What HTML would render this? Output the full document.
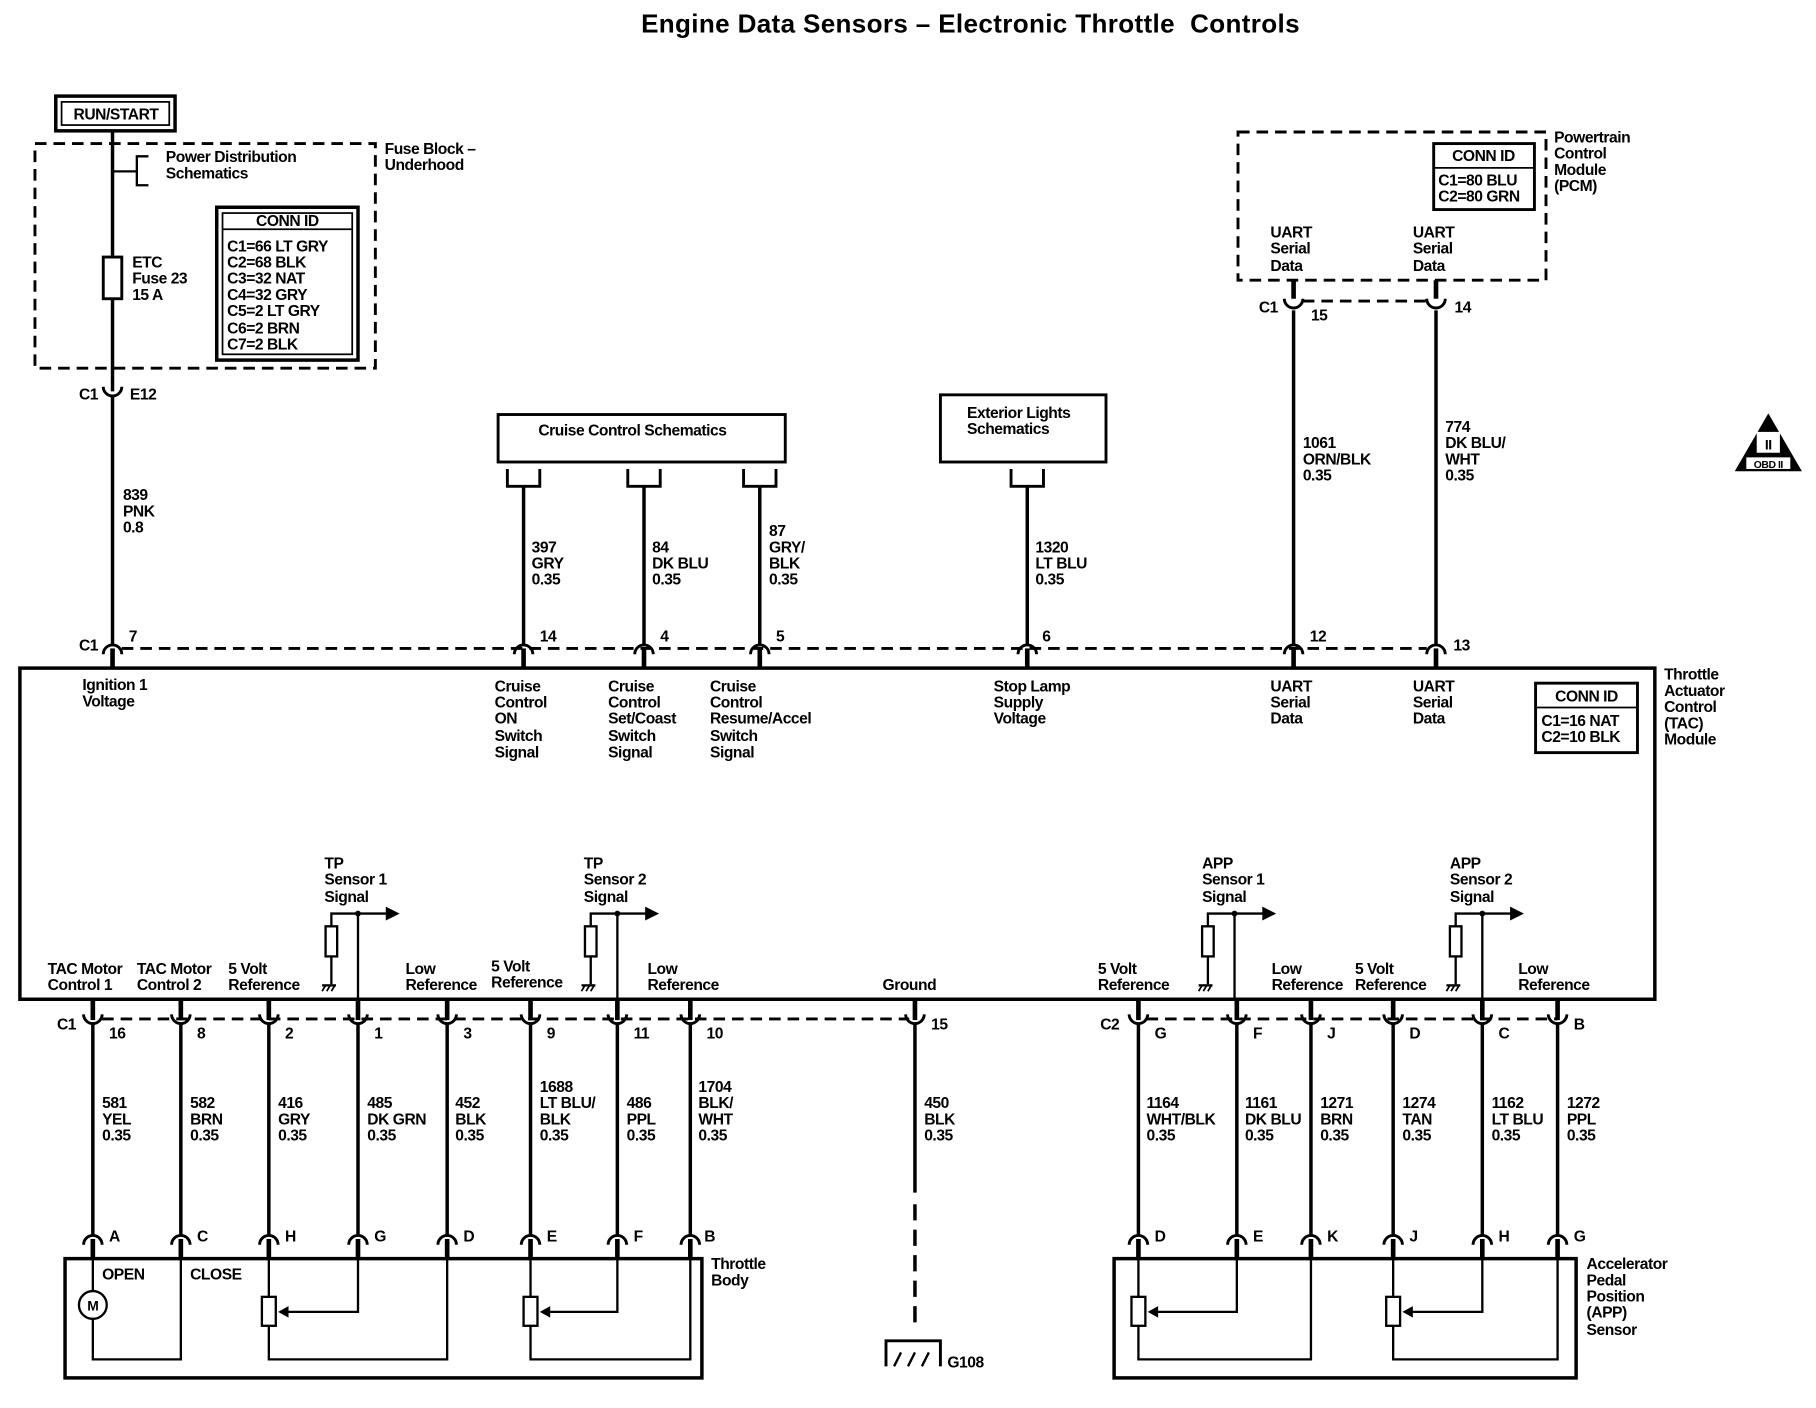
<!DOCTYPE html>
<html><head><meta charset="utf-8"><style>
html,body{margin:0;padding:0;background:#fff;}
svg{display:block}
text{font-family:"Liberation Sans",Arial,sans-serif;font-size:13.5px;font-weight:bold;fill:#000;letter-spacing:-0.4px}
</style></head><body>
<svg width="1816" height="1408" viewBox="0 0 1568 1216" xmlns="http://www.w3.org/2000/svg">
<defs>
<g id="arch"><path d="M-8 8 A8 8 0 0 1 8 8" fill="none" stroke="#000" stroke-width="2.5"/><line x1="0" y1="3" x2="0" y2="20" stroke="#000" stroke-width="4"/></g>
<g id="cup"><path d="M-8 -4 A8 8 0 0 0 8 -4" fill="none" stroke="#000" stroke-width="2.5"/><line x1="0" y1="-17" x2="0" y2="1" stroke="#000" stroke-width="4"/></g>
<g id="gnd"><line x1="-6" y1="0" x2="6" y2="0" stroke="#000" stroke-width="2"/><path d="M-6 5 L-3 0 M-2 5 L1 0 M2 5 L5 0" stroke="#000" stroke-width="1.5"/></g>
</defs>
<text x="838" y="28" text-anchor="middle" xml:space="preserve" style="font-size:22.5px;letter-spacing:0.3px">Engine Data Sensors – Electronic Throttle  Controls</text>

<!-- RUN/START -->
<rect x="48" y="83" width="103" height="30" fill="none" stroke="#000" stroke-width="3"/>
<rect x="53" y="88" width="93" height="20" fill="none" stroke="#000" stroke-width="1.5"/>
<text x="100" y="103" text-anchor="middle">RUN/START</text>

<g fill="none" stroke="#000" stroke-width="2.5" stroke-dasharray="10,6">
<rect x="30" y="124" width="294" height="194"/>
<rect x="1069" y="114" width="266" height="128"/>
<line x1="105" y1="560" x2="1232" y2="560"/>
<line x1="1125" y1="260" x2="1232" y2="260"/>
<line x1="88" y1="880" x2="785" y2="880"/>
<line x1="990" y1="880" x2="1345" y2="880"/>
</g>
<text x="332" y="133">Fuse Block –</text><text x="332" y="147">Underhood</text>
<text x="143" y="140">Power Distribution</text><text x="143" y="154">Schematics</text>
<path d="M97 148 H118 M128 135 H118 V160 H128" fill="none" stroke="#000" stroke-width="2"/>
<line x1="97" y1="113" x2="97" y2="338" stroke="#000" stroke-width="3"/>
<rect x="89" y="222" width="16" height="36" fill="#fff" stroke="#000" stroke-width="2.5"/>
<text x="114" y="231">ETC</text><text x="114" y="245">Fuse 23</text><text x="114" y="259">15 A</text>
<rect x="187" y="179" width="122" height="132" fill="none" stroke="#000" stroke-width="3"/>
<line x1="192" y1="198" x2="304" y2="198" stroke="#000" stroke-width="1.5"/>
<rect x="192" y="184" width="112" height="122" fill="none" stroke="#000" stroke-width="1.5"/>
<text x="248" y="195" text-anchor="middle">CONN ID</text>
<text x="196" y="217">C1=66 LT GRY</text><text x="196" y="231">C2=68 BLK</text><text x="196" y="245">C3=32 NAT</text><text x="196" y="259">C4=32 GRY</text><text x="196" y="273">C5=2 LT GRY</text><text x="196" y="288">C6=2 BRN</text><text x="196" y="302">C7=2 BLK</text>
<path d="M89 334 A8 8 0 0 0 105 334" fill="none" stroke="#000" stroke-width="2.5"/>
<text x="68" y="345">C1</text><text x="112" y="345">E12</text>
<line x1="97" y1="342" x2="97" y2="557" stroke="#000" stroke-width="3"/>
<text x="106" y="432">839</text><text x="106" y="446">PNK</text><text x="106" y="460">0.8</text>

<rect x="430" y="358" width="248" height="41" fill="none" stroke="#000" stroke-width="2.5"/>
<text x="546" y="376" text-anchor="middle">Cruise Control Schematics</text>
<rect x="812" y="341" width="143" height="58" fill="none" stroke="#000" stroke-width="2.5"/>
<text x="835" y="361">Exterior Lights</text><text x="835" y="375">Schematics</text>
<g fill="none" stroke="#000" stroke-width="2.5">
<path d="M438 405 V420 H466 V405"/><path d="M542 405 V420 H570 V405"/><path d="M642 405 V420 H670 V405"/><path d="M873 405 V420 H901 V405"/>
</g>
<g stroke="#000" stroke-width="3">
<line x1="452" y1="420" x2="452" y2="557"/><line x1="556" y1="420" x2="556" y2="557"/><line x1="656" y1="420" x2="656" y2="557"/><line x1="887" y1="420" x2="887" y2="557"/>
<line x1="1117" y1="268" x2="1117" y2="557"/><line x1="1240" y1="268" x2="1240" y2="557"/>
</g>
<text x="459" y="477">397</text><text x="459" y="491">GRY</text><text x="459" y="505">0.35</text>
<text x="563" y="477">84</text><text x="563" y="491">DK BLU</text><text x="563" y="505">0.35</text>
<text x="664" y="463">87</text><text x="664" y="477">GRY/</text><text x="664" y="491">BLK</text><text x="664" y="505">0.35</text>
<text x="894" y="477">1320</text><text x="894" y="491">LT BLU</text><text x="894" y="505">0.35</text>
<text x="1125" y="387">1061</text><text x="1125" y="401">ORN/BLK</text><text x="1125" y="415">0.35</text>
<text x="1248" y="373">774</text><text x="1248" y="387">DK BLU/</text><text x="1248" y="401">WHT</text><text x="1248" y="415">0.35</text>

<text x="1342" y="123">Powertrain</text><text x="1342" y="137">Control</text><text x="1342" y="151">Module</text><text x="1342" y="165">(PCM)</text>
<rect x="1238" y="124" width="87" height="57" fill="none" stroke="#000" stroke-width="2.5"/>
<line x1="1238" y1="145" x2="1325" y2="145" stroke="#000" stroke-width="1.5"/>
<text x="1281" y="139" text-anchor="middle">CONN ID</text>
<text x="1242" y="160">C1=80 BLU</text><text x="1242" y="174">C2=80 GRN</text>
<text x="1097" y="205">UART</text><text x="1097" y="219">Serial</text><text x="1097" y="234">Data</text>
<text x="1220" y="205">UART</text><text x="1220" y="219">Serial</text><text x="1220" y="234">Data</text>
<path d="M1109 258 A8 8 0 0 0 1125 258" fill="none" stroke="#000" stroke-width="2.5"/>
<path d="M1232 258 A8 8 0 0 0 1248 258" fill="none" stroke="#000" stroke-width="2.5"/>
<line x1="1117" y1="242" x2="1117" y2="258" stroke="#000" stroke-width="4"/><line x1="1240" y1="242" x2="1240" y2="258" stroke="#000" stroke-width="4"/>
<text x="1087" y="270">C1</text><text x="1132" y="277">15</text><text x="1256" y="270">14</text>

<path d="M1527 357 L1556 407 L1498 407 Z" fill="#000"/>
<rect x="1517" y="373" width="20" height="18" fill="#fff"/><text x="1527" y="388" text-anchor="middle" style="font-size:12px">II</text>
<rect x="1508" y="395" width="38" height="10" fill="#fff"/><text x="1527" y="404" text-anchor="middle" style="font-size:9px">OBD II</text>

<use href="#arch" x="97" y="557"/><use href="#arch" x="452" y="557"/><use href="#arch" x="556" y="557"/><use href="#arch" x="656" y="557"/><use href="#arch" x="887" y="557"/><use href="#arch" x="1117" y="557"/><use href="#arch" x="1240" y="557"/>
<text x="68" y="562">C1</text><text x="111" y="554">7</text><text x="466" y="554">14</text><text x="570" y="554">4</text><text x="670" y="554">5</text><text x="900" y="554">6</text><text x="1131" y="554">12</text><text x="1255" y="562">13</text>

<rect x="17" y="577" width="1412" height="286" fill="none" stroke="#000" stroke-width="3"/>
<text x="1437" y="587">Throttle</text><text x="1437" y="601">Actuator</text><text x="1437" y="615">Control</text><text x="1437" y="629">(TAC)</text><text x="1437" y="643">Module</text>
<rect x="1326" y="590" width="88" height="60" fill="none" stroke="#000" stroke-width="2.5"/>
<line x1="1326" y1="611" x2="1414" y2="611" stroke="#000" stroke-width="1.5"/>
<text x="1370" y="606" text-anchor="middle">CONN ID</text>
<text x="1331" y="627">C1=16 NAT</text><text x="1331" y="641">C2=10 BLK</text>
<text x="71" y="596">Ignition 1</text><text x="71" y="610">Voltage</text>
<text x="427" y="597">Cruise</text><text x="427" y="611">Control</text><text x="427" y="625">ON</text><text x="427" y="640">Switch</text><text x="427" y="654">Signal</text>
<text x="525" y="597">Cruise</text><text x="525" y="611">Control</text><text x="525" y="625">Set/Coast</text><text x="525" y="640">Switch</text><text x="525" y="654">Signal</text>
<text x="613" y="597">Cruise</text><text x="613" y="611">Control</text><text x="613" y="625">Resume/Accel</text><text x="613" y="640">Switch</text><text x="613" y="654">Signal</text>
<text x="858" y="597">Stop Lamp</text><text x="858" y="611">Supply</text><text x="858" y="625">Voltage</text>
<text x="1097" y="597">UART</text><text x="1097" y="611">Serial</text><text x="1097" y="625">Data</text>
<text x="1220" y="597">UART</text><text x="1220" y="611">Serial</text><text x="1220" y="625">Data</text>

<text x="41" y="841">TAC Motor</text><text x="41" y="855">Control 1</text>
<text x="118" y="841">TAC Motor</text><text x="118" y="855">Control 2</text>
<text x="197" y="841">5 Volt</text><text x="197" y="855">Reference</text>
<text x="350" y="841">Low</text><text x="350" y="855">Reference</text>
<text x="424" y="839">5 Volt</text><text x="424" y="853">Reference</text>
<text x="559" y="841">Low</text><text x="559" y="855">Reference</text>
<text x="762" y="855">Ground</text>
<text x="948" y="841">5 Volt</text><text x="948" y="855">Reference</text>
<text x="1098" y="841">Low</text><text x="1098" y="855">Reference</text>
<text x="1170" y="841">5 Volt</text><text x="1170" y="855">Reference</text>
<text x="1311" y="841">Low</text><text x="1311" y="855">Reference</text>

<g id="s1">
<text x="280" y="750">TP</text><text x="280" y="764">Sensor 1</text><text x="280" y="779">Signal</text>
<path d="M309 863 V789 H335" fill="none" stroke="#000" stroke-width="2"/><path d="M333 783 L345 789 L333 795 Z"/>
<circle cx="309" cy="789" r="2.5"/>
<path d="M286 800 V789 H309 M286 826 V850" fill="none" stroke="#000" stroke-width="2"/>
<rect x="281" y="800" width="10" height="26" fill="#fff" stroke="#000" stroke-width="2"/>
<use href="#gnd" x="284" y="851"/>
</g>
<use href="#s1" x="224" y="0"/>
<use href="#s1" x="757" y="0"/>
<use href="#s1" x="971" y="0"/>
<rect x="500" y="738" width="70" height="45" fill="#fff"/><rect x="1035" y="738" width="70" height="45" fill="#fff"/><rect x="1248" y="738" width="70" height="45" fill="#fff"/>
<text x="504" y="750">TP</text><text x="504" y="764">Sensor 2</text><text x="504" y="779">Signal</text>
<text x="1038" y="750">APP</text><text x="1038" y="764">Sensor 1</text><text x="1038" y="779">Signal</text>
<text x="1252" y="750">APP</text><text x="1252" y="764">Sensor 2</text><text x="1252" y="779">Signal</text>

<g stroke="#000" stroke-width="3">
<line x1="80" y1="884" x2="80" y2="1067"/><line x1="156" y1="884" x2="156" y2="1067"/><line x1="232" y1="884" x2="232" y2="1067"/><line x1="309" y1="884" x2="309" y2="1067"/><line x1="386" y1="884" x2="386" y2="1067"/><line x1="458" y1="884" x2="458" y2="1067"/><line x1="533" y1="884" x2="533" y2="1067"/><line x1="596" y1="884" x2="596" y2="1067"/>
<line x1="790" y1="884" x2="790" y2="1030"/><line x1="790" y1="1040" x2="790" y2="1150" stroke-dasharray="14,8"/>
<line x1="983" y1="884" x2="983" y2="1067"/><line x1="1068" y1="884" x2="1068" y2="1067"/><line x1="1132" y1="884" x2="1132" y2="1067"/><line x1="1203" y1="884" x2="1203" y2="1067"/><line x1="1280" y1="884" x2="1280" y2="1067"/><line x1="1345" y1="884" x2="1345" y2="1067"/>
</g>
<g>
<use href="#cup" x="80" y="880"/><use href="#cup" x="156" y="880"/><use href="#cup" x="232" y="880"/><use href="#cup" x="309" y="880"/><use href="#cup" x="386" y="880"/><use href="#cup" x="458" y="880"/><use href="#cup" x="533" y="880"/><use href="#cup" x="596" y="880"/><use href="#cup" x="790" y="880"/>
<use href="#cup" x="983" y="880"/><use href="#cup" x="1068" y="880"/><use href="#cup" x="1132" y="880"/><use href="#cup" x="1203" y="880"/><use href="#cup" x="1280" y="880"/><use href="#cup" x="1345" y="880"/>
</g>
<text x="49" y="889">C1</text><text x="94" y="897">16</text><text x="170" y="897">8</text><text x="246" y="897">2</text><text x="323" y="897">1</text><text x="400" y="897">3</text><text x="472" y="897">9</text><text x="547" y="897">11</text><text x="610" y="897">10</text><text x="804" y="889">15</text>
<text x="950" y="889">C2</text><text x="997" y="897">G</text><text x="1082" y="897">F</text><text x="1146" y="897">J</text><text x="1217" y="897">D</text><text x="1294" y="897">C</text><text x="1359" y="889">B</text>

<g>
<text x="88" y="957">581</text><text x="88" y="971">YEL</text><text x="88" y="985">0.35</text>
<text x="164" y="957">582</text><text x="164" y="971">BRN</text><text x="164" y="985">0.35</text>
<text x="240" y="957">416</text><text x="240" y="971">GRY</text><text x="240" y="985">0.35</text>
<text x="317" y="957">485</text><text x="317" y="971">DK GRN</text><text x="317" y="985">0.35</text>
<text x="393" y="957">452</text><text x="393" y="971">BLK</text><text x="393" y="985">0.35</text>
<text x="466" y="943">1688</text><text x="466" y="957">LT BLU/</text><text x="466" y="971">BLK</text><text x="466" y="985">0.35</text>
<text x="541" y="957">486</text><text x="541" y="971">PPL</text><text x="541" y="985">0.35</text>
<text x="603" y="943">1704</text><text x="603" y="957">BLK/</text><text x="603" y="971">WHT</text><text x="603" y="985">0.35</text>
<text x="798" y="957">450</text><text x="798" y="971">BLK</text><text x="798" y="985">0.35</text>
<text x="990" y="957">1164</text><text x="990" y="971">WHT/BLK</text><text x="990" y="985">0.35</text>
<text x="1075" y="957">1161</text><text x="1075" y="971">DK BLU</text><text x="1075" y="985">0.35</text>
<text x="1140" y="957">1271</text><text x="1140" y="971">BRN</text><text x="1140" y="985">0.35</text>
<text x="1211" y="957">1274</text><text x="1211" y="971">TAN</text><text x="1211" y="985">0.35</text>
<text x="1288" y="957">1162</text><text x="1288" y="971">LT BLU</text><text x="1288" y="985">0.35</text>
<text x="1353" y="957">1272</text><text x="1353" y="971">PPL</text><text x="1353" y="985">0.35</text>
</g>

<use href="#arch" x="80" y="1067"/><use href="#arch" x="156" y="1067"/><use href="#arch" x="232" y="1067"/><use href="#arch" x="309" y="1067"/><use href="#arch" x="386" y="1067"/><use href="#arch" x="458" y="1067"/><use href="#arch" x="533" y="1067"/><use href="#arch" x="596" y="1067"/>
<use href="#arch" x="983" y="1067"/><use href="#arch" x="1068" y="1067"/><use href="#arch" x="1132" y="1067"/><use href="#arch" x="1203" y="1067"/><use href="#arch" x="1280" y="1067"/><use href="#arch" x="1345" y="1067"/>
<text x="94" y="1072">A</text><text x="170" y="1072">C</text><text x="246" y="1072">H</text><text x="323" y="1072">G</text><text x="400" y="1072">D</text><text x="472" y="1072">E</text><text x="547" y="1072">F</text><text x="608" y="1072">B</text>
<text x="997" y="1072">D</text><text x="1082" y="1072">E</text><text x="1146" y="1072">K</text><text x="1217" y="1072">J</text><text x="1294" y="1072">H</text><text x="1359" y="1072">G</text>

<rect x="56" y="1087" width="550" height="103" fill="none" stroke="#000" stroke-width="3"/>
<text x="614" y="1096">Throttle</text><text x="614" y="1110">Body</text>
<text x="88" y="1105">OPEN</text><text x="164" y="1105">CLOSE</text>
<g fill="none" stroke="#000" stroke-width="2">
<path d="M80 1087 V1115 M80 1139 V1174 H156 V1087"/>
<path d="M232 1087 V1120 M232 1145 V1174 H386 V1087"/>
<path d="M309 1087 V1133 H246"/>
<path d="M458 1087 V1120 M458 1145 V1174 H596 V1087"/>
<path d="M533 1087 V1133 H472"/>
<path d="M983 1087 V1120 M983 1145 V1174 H1132 V1087"/>
<path d="M1068 1087 V1133 H997"/>
<path d="M1203 1087 V1120 M1203 1145 V1174 H1345 V1087"/>
<path d="M1280 1087 V1133 H1217"/>
</g>
<circle cx="80" cy="1127" r="12" fill="#fff" stroke="#000" stroke-width="2"/>
<text x="80" y="1132" text-anchor="middle" style="font-size:12px">M</text>
<g fill="#fff" stroke="#000" stroke-width="2">
<rect x="226" y="1120" width="12" height="25"/><rect x="452" y="1120" width="12" height="25"/><rect x="977" y="1120" width="12" height="25"/><rect x="1197" y="1120" width="12" height="25"/>
</g>
<path d="M240 1133 L249 1128 L249 1138Z M466 1133 L475 1128 L475 1138Z M991 1133 L1000 1128 L1000 1138Z M1211 1133 L1220 1128 L1220 1138Z"/>

<rect x="962" y="1087" width="399" height="103" fill="none" stroke="#000" stroke-width="3"/>
<text x="1370" y="1096">Accelerator</text><text x="1370" y="1110">Pedal</text><text x="1370" y="1124">Position</text><text x="1370" y="1138">(APP)</text><text x="1370" y="1153">Sensor</text>

<path d="M765 1180 V1158 H812 V1180" fill="none" stroke="#000" stroke-width="2.5"/>
<path d="M772 1180 L778 1168 M784 1180 L790 1168 M796 1180 L802 1168" stroke="#000" stroke-width="2"/>
<text x="818" y="1181">G108</text>
</svg>
</body></html>
